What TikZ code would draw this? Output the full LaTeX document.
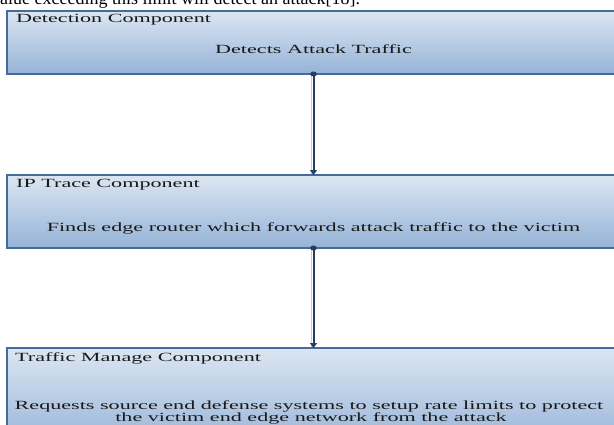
\documentclass[tikz,border=0pt]{standalone}
\usepackage{graphicx}
\usepackage{fontspec}
\setmainfont{Liberation Serif}
\usetikzlibrary{arrows.meta}
\definecolor{boxtop}{HTML}{DCE6F2}
\definecolor{boxbot}{HTML}{95B3D7}
\definecolor{boxline}{HTML}{456A9C}
\definecolor{connblue}{HTML}{243F60}
\newcommand{\widetxt}[1]{\scalebox{1.77}[1]{#1}}
\tikzset{
  compbox/.style={draw=boxline, line width=1.3pt, top color=boxtop, bottom color=boxbot,
    minimum width=613pt, inner sep=0pt, outer sep=0pt},
  titletxt/.style={anchor=base west, inner sep=0pt, font=\fontsize{12.5}{14}\selectfont, text=black!90},
  bodytxt/.style={anchor=base, inner sep=0pt, font=\fontsize{12.5}{14}\selectfont, text=black!90},
  conn/.style={draw=connblue, line width=2pt, shorten <=-2.5pt,
    {Circle[length=5pt,width=6.5pt]}-{Triangle[length=5pt,width=7pt]}},
  connshadow/.style={draw=black!20, line width=1.2pt}
}
\begin{document}
\begin{tikzpicture}[x=1pt,y=-1pt]
\useasboundingbox (0,0) rectangle (614,424);
\clip (0,0) rectangle (614,424);
% cut-off body text line above the figure
\node[anchor=base west, inner sep=0pt, font=\fontsize{18}{20}\selectfont] (cut) at (-9,4.5)
  {value exceeding this limit will detect an attack[18].};
% boxes
\node[compbox, minimum height=63pt] (det) at (313.5,42.5) {};
\node[compbox, minimum height=73pt] (ip) at (313.5,211.5) {};
\node[compbox, minimum height=100pt] (tm) at (313.5,398) {};
% texts
\node[titletxt] (detT) at (16,22.5) {\widetxt{Detection Component}};
\node[bodytxt] (detB) at (313.5,53.3) {\widetxt{Detects Attack Traffic}};
\node[titletxt] (ipT) at (16,187) {\widetxt{IP Trace Component}};
\node[bodytxt] (ipB) at (313.5,231) {\widetxt{Finds edge router which forwards attack traffic to the victim}};
\node[titletxt] (tmT) at (15,361) {\widetxt{Traffic Manage Component}};
\node[bodytxt] (tmB1) at (309,409) {\widetxt{Requests source end defense systems to setup rate limits to protect}};
\node[bodytxt] (tmB2) at (311,421.5) {\widetxt{the victim end edge network from the attack}};
% connectors
\draw[connshadow] ([xshift=-2pt,yshift=-1pt]det.south) -- ([xshift=-2pt,yshift=1pt]ip.north);
\draw[connshadow] ([xshift=-2pt,yshift=-1pt]ip.south) -- ([xshift=-2pt,yshift=1pt]tm.north);
\draw[conn] (det.south) -- (ip.north);
\draw[conn] (ip.south) -- (tm.north);
\end{tikzpicture}
\end{document}
